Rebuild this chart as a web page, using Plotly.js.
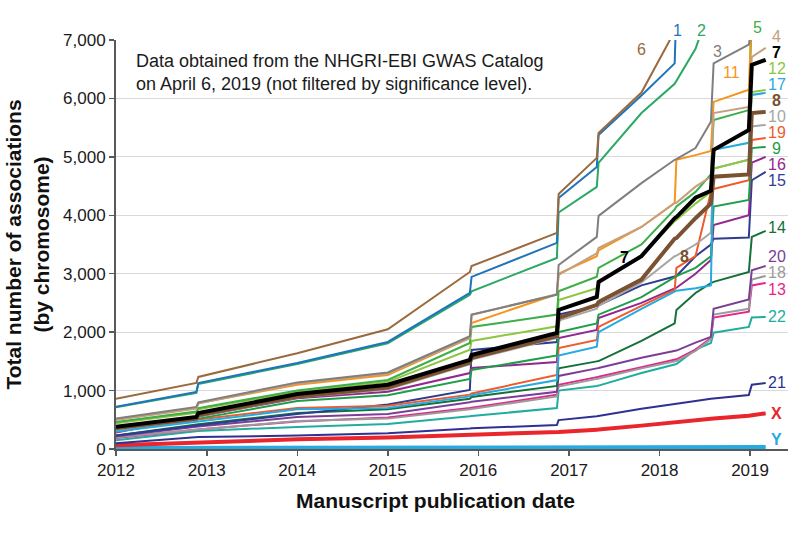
<!DOCTYPE html>
<html>
<head>
<meta charset="utf-8">
<script src="https://cdn.plot.ly/plotly-3.0.1.min.js"></script>
<style>
  body { margin: 0; background: #fff; }
  #chart { width: 800px; height: 539px; }
</style>
</head>
<body>
<div id="chart"></div>
<script>
var dates = ['2012-01-01', '2012-11-20', '2012-11-28', '2014-01-01', '2015-01-01',
             '2015-11-28', '2015-12-05', '2016-11-13', '2016-11-20', '2017-04-23',
             '2017-04-30', '2017-10-20', '2018-03-03', '2018-03-10', '2018-05-26',
             '2018-07-27', '2018-08-07', '2018-12-27', '2019-01-08', '2019-03-05'];

// associations per chromosome (values above 7,000 run off the top of the chart)
var c1  = [724, 976, 1130, 1472, 1832, 2671, 2945, 3527, 4297, 4828, 5376, 6050, 6600, 7600, 8000, 8200, 8300, 8500, 8600, 8700];
var c2  = [715, 960, 1110, 1455, 1810, 2640, 2700, 3270, 4048, 4486, 4896, 5750, 6250, 6300, 6850, 7600, 7700, 8000, 8100, 8200];
var c3  = [520, 720, 800, 1140, 1310, 1930, 2300, 2640, 3150, 3630, 3990, 4550, 4950, 4960, 5150, 5600, 6600, 6920, 7200, 7400];
var c4  = [495, 690, 780, 1120, 1290, 1900, 2294, 2650, 2980, 3350, 3440, 3800, 4210, 4215, 4490, 4660, 5750, 5855, 6710, 6865];
var c5  = [460, 640, 700, 1000, 1181, 1815, 2089, 2300, 2700, 2950, 3100, 3500, 4100, 4150, 4400, 4700, 5630, 5800, 7500, 7800];
var c6  = [860, 1130, 1233, 1640, 2050, 3030, 3130, 3700, 4366, 4982, 5410, 6100, 7150, 7200, 7300, 7400, 7450, 7600, 7700, 7800];
var c7  = [380, 548, 616, 940, 1100, 1524, 1609, 1986, 2380, 2602, 2859, 3300, 3950, 3970, 4300, 4420, 5120, 5460, 6575, 6660];
var c8  = [360, 520, 580, 900, 1050, 1480, 1560, 1930, 2243, 2465, 2517, 2900, 3600, 3610, 3950, 4200, 4660, 4700, 5750, 5770];
var c9  = [330, 510, 520, 820, 920, 1200, 1350, 1600, 2000, 2150, 2300, 2600, 2950, 2960, 3100, 3300, 4150, 4263, 5150, 5170];
var c10 = [330, 500, 560, 880, 1020, 1450, 1530, 1900, 2200, 2400, 2450, 2850, 3300, 3310, 3500, 3700, 4800, 4950, 5520, 5547];
var c11 = [510, 700, 787, 1100, 1267, 1900, 2157, 2650, 3000, 3300, 3400, 3800, 4210, 4950, 5030, 5100, 5940, 6150, 7500, 7800];
var c12 = [440, 620, 680, 980, 1150, 1700, 1850, 2100, 2550, 2750, 2850, 3300, 3900, 3920, 4200, 4400, 4800, 4950, 6110, 6146];
var c13 = [190, 330, 335, 470, 540, 700, 705, 930, 1100, 1230, 1235, 1400, 1530, 1535, 1700, 1900, 2250, 2350, 2800, 2842];
var c14 = [230, 420, 425, 616, 680, 860, 890, 1080, 1380, 1500, 1505, 1850, 2150, 2380, 2670, 2840, 2860, 3030, 3630, 3732];
var c15 = [230, 400, 405, 600, 760, 1010, 1695, 1830, 2300, 2450, 2460, 2800, 2950, 2960, 3300, 3500, 3600, 3620, 4600, 4742];
var c16 = [280, 550, 555, 870, 980, 1300, 1387, 1490, 1900, 2037, 2243, 2500, 2756, 2760, 3000, 3235, 3835, 4000, 4900, 5000];
var c17 = [300, 460, 470, 680, 700, 900, 920, 1180, 1600, 1750, 2000, 2400, 2700, 2710, 2750, 2800, 5120, 5240, 6060, 6095];
var c18 = [200, 330, 335, 480, 520, 680, 685, 900, 1070, 1200, 1205, 1380, 1500, 1505, 1680, 1880, 2300, 2400, 2900, 2962];
var c19 = [300, 500, 505, 700, 740, 930, 950, 1267, 1729, 1866, 2089, 2450, 2722, 3100, 3300, 4400, 4450, 4600, 5290, 5324];
var c20 = [220, 380, 385, 548, 600, 800, 810, 980, 1250, 1380, 1385, 1560, 1680, 1685, 1820, 1920, 2400, 2560, 3060, 3133];
var c21 = [100, 200, 205, 230, 270, 350, 355, 410, 495, 560, 565, 690, 770, 775, 820, 860, 865, 925, 1100, 1130];
var c22 = [150, 300, 310, 377, 430, 560, 565, 700, 1000, 1080, 1085, 1300, 1450, 1455, 1700, 1815, 1990, 2090, 2250, 2260];
var cX  = [65, 110, 112, 165, 195, 240, 242, 290, 292, 330, 332, 400, 460, 462, 500, 520, 522, 570, 580, 610];
var cY  = [15, 18, 18, 20, 22, 24, 24, 26, 27, 28, 28, 30, 31, 31, 32, 33, 33, 34, 35, 35];

var yMax = 7000;

// drawing order: bottom first, black 7 last so it sits on top
var series = [
  ['Y', cY, '#27aae1', 4], ['X', cX, '#e8262b', 4], ['21', c21, '#2e3192', 2],
  ['22', c22, '#20ada0', 2], ['13', c13, '#e5258c', 2], ['18', c18, '#9b9b9b', 2],
  ['20', c20, '#7b3e98', 2], ['14', c14, '#15703a', 2], ['15', c15, '#2e3d92', 2],
  ['16', c16, '#93278f', 2], ['19', c19, '#ef5b2b', 2], ['9', c9, '#1e9e48', 2],
  ['10', c10, '#a6a6a6', 2], ['17', c17, '#27a9e1', 2], ['12', c12, '#8dc63f', 2],
  ['5', c5, '#3dae49', 2], ['11', c11, '#f7941d', 2], ['4', c4, '#c4a07c', 2],
  ['3', c3, '#7f7f7f', 2], ['2', c2, '#2aa866', 2], ['1', c1, '#1f74bb', 2],
  ['6', c6, '#9a6a3e', 2], ['8', c8, '#7a5231', 4], ['7', c7, '#000000', 4]
];

var data = series.map(function (s) {
  return {
    x: dates, y: s[1], name: s[0], type: 'scatter', mode: 'lines',
    line: {color: s[2], width: s[3]}, hoverinfo: 'name+y'
  };
});

// direct labels [text, date, value, color, bold]
var labels = [
  ['1', '2018-03-14', 7170, '#1f74bb'], ['2', '2018-06-18', 7170, '#2aa866'],
  ['5', '2019-01-30', 7210, '#3dae49'], ['6', '2017-10-20', 6830, '#9a6a3e'],
  ['3', '2018-08-22', 6800, '#7f7f7f'], ['11', '2018-10-19', 6440, '#f7941d'],
  ['4', '2019-04-18', 7060, '#c4a07c'], ['7', '2019-04-18', 6790, '#000000', 1],
  ['12', '2019-04-18', 6520, '#8dc63f'], ['17', '2019-04-18', 6235, '#27a9e1'],
  ['8', '2019-04-18', 5970, '#7a5231', 1], ['10', '2019-04-18', 5685, '#a6a6a6'],
  ['19', '2019-04-18', 5410, '#ef5b2b'], ['9', '2019-04-18', 5140, '#1e9e48'],
  ['16', '2019-04-18', 4865, '#93278f'], ['15', '2019-04-18', 4590, '#2e3d92'],
  ['14', '2019-04-18', 3785, '#15703a'], ['20', '2019-04-18', 3290, '#7b3e98'],
  ['18', '2019-04-18', 3015, '#9b9b9b'], ['13', '2019-04-18', 2735, '#e5258c'],
  ['22', '2019-04-18', 2260, '#20ada0'], ['21', '2019-04-18', 1130, '#2e3192'],
  ['X', '2019-04-18', 615, '#e8262b', 1], ['Y', '2019-04-18', 155, '#27aae1', 1],
  ['7', '2017-08-13', 3270, '#000000', 1], ['8', '2018-04-12', 3300, '#7a5231', 1]
];

var annotations = labels.map(function (l) {
  return {
    x: l[1], y: l[2] / yMax, xref: 'x', yref: 'paper', showarrow: false,
    text: l[4] ? '<b>' + l[0] + '</b>' : l[0],
    xanchor: 'center', yanchor: 'middle',
    font: {family: 'Liberation Sans, Arial, sans-serif', size: 16, color: l[3]}
  };
});

annotations.push({
  xref: 'paper', yref: 'paper', x: 0.027, y: 0.978, xanchor: 'left', yanchor: 'top',
  align: 'left', showarrow: false,
  text: 'Data obtained from the NHGRI-EBI GWAS Catalog<br>on April 6, 2019 (not filtered by significance level).',
  font: {family: 'Liberation Sans, Arial, sans-serif', size: 18, color: '#1a1a1a'}
});

// x axis title sits a little left of the plot centre in the original
annotations.push({
  xref: 'paper', yref: 'paper', x: 0.476, y: -0.125, xanchor: 'center', yanchor: 'middle',
  showarrow: false, text: '<b>Manuscript publication date</b>',
  font: {family: 'Liberation Sans, Arial, sans-serif', size: 21, color: '#111'}
});

var layout = {
  width: 800, height: 539,
  margin: {l: 116, r: 12, t: 40, b: 90},
  paper_bgcolor: '#fff', plot_bgcolor: '#fff',
  showlegend: false,
  font: {family: 'Liberation Sans, Arial, sans-serif', size: 17, color: '#1a1a1a'},
  xaxis: {
    type: 'date',
    range: ['2012-01-01', '2019-06-03'],
    tickvals: ['2012-01-01', '2013-01-01', '2014-01-01', '2015-01-01',
               '2016-01-01', '2017-01-01', '2018-01-01', '2019-01-01'],
    ticktext: ['2012', '2013', '2014', '2015', '2016', '2017', '2018', '2019'],
    showgrid: false, zeroline: false,
    showline: true, linecolor: '#595959', linewidth: 2,
    ticks: 'outside', ticklen: 5, tickcolor: '#595959', tickwidth: 1.5,
    tickfont: {size: 17}
  },
  yaxis: {
    range: [0, yMax],
    tickvals: [0, 1000, 2000, 3000, 4000, 5000, 6000, 7000],
    tickformat: ',d',
    showgrid: true, gridcolor: '#d9d9d9', gridwidth: 1,
    zeroline: false,
    showline: true, linecolor: '#595959', linewidth: 2,
    ticks: 'outside', ticklen: 5, tickcolor: '#595959', tickwidth: 1.5,
    tickfont: {size: 17},
    title: {text: '<b>Total number of associations<br>(by chromosome)</b>', font: {size: 21, color: '#111'}, standoff: 8}
  },
  annotations: annotations
};

Plotly.newPlot('chart', data, layout, {displayModeBar: false, staticPlot: true});
</script>
</body>
</html>
